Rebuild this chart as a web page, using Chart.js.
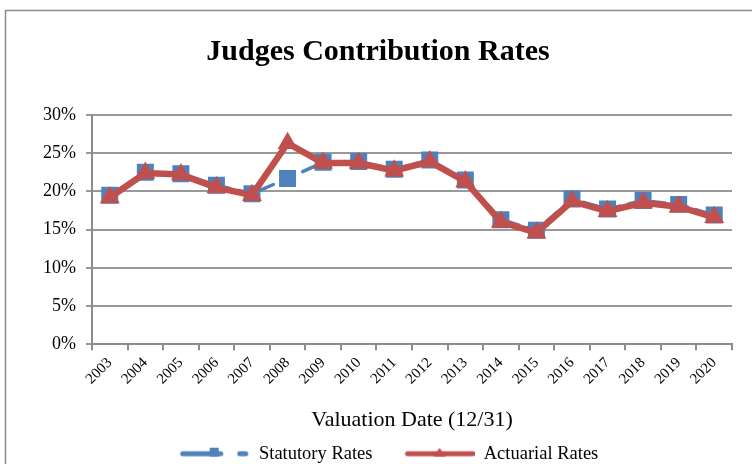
<!DOCTYPE html>
<html>
<head>
<meta charset="utf-8">
<script src="https://cdn.jsdelivr.net/npm/chart.js@4/dist/chart.umd.min.js"></script>
<style>
  html, body { margin: 0; padding: 0; background: #fff; overflow: hidden; }
  #wrap { width: 752px; height: 464px; overflow: hidden; }
</style>
</head>
<body>
<div id="wrap"><canvas id="ratesChart" width="752" height="475"></canvas></div>
<script>
'use strict';

// chart data
var years = ["2003", "2004", "2005", "2006", "2007", "2008", "2009", "2010", "2011",
             "2012", "2013", "2014", "2015", "2016", "2017", "2018", "2019", "2020"];
var statutoryRates = [19.5, 22.5, 22.3, 20.8, 19.7, 21.7, 23.8, 23.9, 22.9,
                      24.1, 21.5, 16.3, 14.9, 19.0, 17.7, 18.8, 18.3, 16.9];
var actuarialRates = [19.2, 22.4, 22.2, 20.5, 19.5, 26.3, 23.7, 23.7, 22.7,
                      23.9, 21.3, 16.0, 14.6, 18.7, 17.4, 18.5, 18.0, 16.6];
var yTicks = [0, 5, 10, 15, 20, 25, 30];

var BLUE = "#4F81BD";
var RED = "#C0504D";
var SERIF = "'Liberation Serif', 'Times New Roman', serif";

/**
 * legend symbols: line with small marker, drawn in the right 70px
 */

function legendSymbol(color, marker) {
  var c = document.createElement("canvas");
  c.width = 92;
  c.height = 20;
  var g = c.getContext("2d");
  g.strokeStyle = color;
  g.fillStyle = color;
  g.lineWidth = 5;
  g.lineCap = "round";
  g.beginPath();
  if (marker === "rect") {
    g.moveTo(25, 10);
    g.lineTo(63, 10);
    g.moveTo(82, 10);
    g.lineTo(88, 10);
  } else {
    g.moveTo(25, 10);
    g.lineTo(90, 10);
  }
  g.stroke();
  g.beginPath();
  if (marker === "rect") {
    g.rect(52, 4, 9, 9);
  } else {
    g.moveTo(57, 4);
    g.lineTo(63, 13);
    g.lineTo(51, 13);
    g.closePath();
  }
  g.fill();
  return c;
}

/**
 * outer frame
 */

var framePlugin = {
  id: "frame",
  beforeDraw: function (chart) {
    var ctx = chart.ctx;
    ctx.save();
    ctx.strokeStyle = "#8a8a8a";
    ctx.lineWidth = 1.5;
    ctx.strokeRect(5.5, 10.5, 800, 500);
    ctx.restore();
  }
};

var ctx = document.getElementById("ratesChart").getContext("2d");
var ratesChart = new Chart(ctx, {
  type: "line",
  data: {
    labels: years,
    datasets: [{
      label: "Statutory Rates",
      data: statutoryRates,
      borderColor: BLUE,
      backgroundColor: BLUE,
      borderWidth: 3.5,
      borderDash: [14, 9],
      borderCapStyle: "round",
      pointStyle: "rect",
      pointRadius: 12,
      pointBorderWidth: 0,
      tension: 0,
      order: 2
    }, {
      label: "Actuarial Rates",
      data: actuarialRates,
      borderColor: RED,
      backgroundColor: RED,
      borderWidth: 6.5,
      pointStyle: "triangle",
      pointRadius: 11.5,
      pointBorderWidth: 0,
      tension: 0,
      order: 1
    }]
  },
  options: {
    responsive: false,
    animation: false,
    layout: { padding: { left: 24, right: 20, top: 0, bottom: 2 } },
    scales: {
      x: {
        offset: true,
        grid: { drawOnChartArea: false, offset: true, tickLength: 6, color: "#8c8c8c", lineWidth: 2 },
        border: { color: "#8c8c8c", width: 2 },
        ticks: {
          color: "#000",
          font: { family: SERIF, size: 15 },
          maxRotation: 45,
          minRotation: 45,
          autoSkip: false,
          padding: 4
        },
        title: {
          display: true,
          text: "Valuation Date (12/31)",
          color: "#000",
          font: { family: SERIF, size: 22 },
          padding: { top: 15, bottom: 1 }
        }
      },
      y: {
        min: 0,
        max: 30,
        afterBuildTicks: function (scale) {
          scale.ticks = yTicks.map(function (v) { return { value: v }; });
        },
        afterFit: function (scale) {
          scale.width = 68;
        },
        grid: { color: "#999", lineWidth: 2, tickLength: 6 },
        border: { color: "#8c8c8c", width: 2 },
        ticks: {
          color: "#000",
          font: { family: SERIF, size: 18 },
          padding: 10,
          callback: function (v) { return v + "%"; }
        }
      }
    },
    plugins: {
      title: {
        display: true,
        text: "Judges Contribution Rates",
        color: "#000",
        font: { family: SERIF, size: 30, weight: "bold" },
        padding: { top: 34, bottom: 45 }
      },
      legend: {
        position: "bottom",
        labels: {
          usePointStyle: true,
          pointStyleWidth: 92,
          padding: 10,
          color: "#000",
          font: { family: SERIF, size: 18.5 },
          generateLabels: function (chart) {
            return [
              { text: "Statutory Rates", pointStyle: legendSymbol(BLUE, "rect"), datasetIndex: 0, fontColor: "#000", lineWidth: 0 },
              { text: "Actuarial Rates", pointStyle: legendSymbol(RED, "triangle"), datasetIndex: 1, fontColor: "#000", lineWidth: 0 }
            ];
          }
        }
      },
      tooltip: { enabled: false }
    }
  },
  plugins: [framePlugin]
});
</script>
</body>
</html>
